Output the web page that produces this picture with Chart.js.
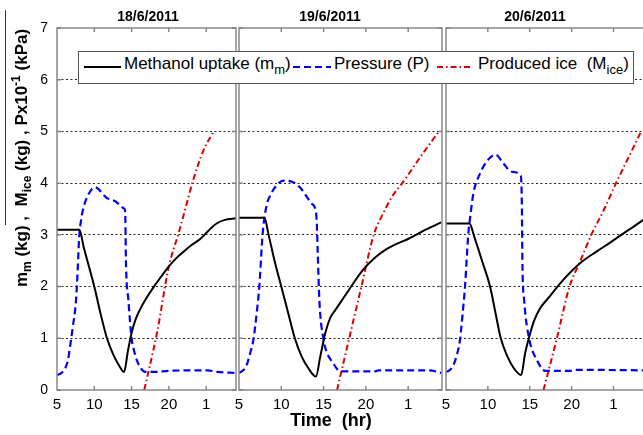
<!DOCTYPE html>
<html>
<head>
<meta charset="utf-8">
<script src="https://cdn.jsdelivr.net/npm/chart.js@4.4.0/dist/chart.umd.min.js"></script>
<style>
  html, body { margin: 0; padding: 0; background: #fff; }
  #wrap { position: relative; width: 643px; height: 435px; overflow: hidden; background: #fff;
          font-family: "Liberation Sans", Arial, sans-serif; color: #000; }
  canvas.panel { position: absolute; left: 0; top: 0; }
  .title { position: absolute; top: 7px; font-size: 14px; font-weight: bold; line-height: 18px;
           transform: translateX(-50%); white-space: nowrap; }
  #ylab { position: absolute; left: 22px; top: 158px; font-size: 17px; font-weight: bold; white-space: pre;
          transform: translate(-50%, -50%) rotate(-90deg); }
  #ylab sub, #ylab sup { font-size: 12px; line-height: 0; }
  #ybar { position: absolute; left: 5px; top: 10px; width: 1px; height: 215px; background: #333; }
  #xlab { position: absolute; left: 331px; top: 410px; font-size: 18px; font-weight: bold; white-space: pre;
          transform: translateX(-50%); }
  #legend { position: absolute; left: 78px; top: 51px; width: 554px; height: 31px; border: 1px solid #555;
            background: #fff; z-index: 5; }
  .lg { position: absolute; z-index: 6; font-size: 17px; line-height: 16px; top: 56px; white-space: pre; }
  .lg sub { font-size: 13px; line-height: 0; vertical-align: -5px; }
  svg.smp { position: absolute; z-index: 6; top: 62px; }
</style>
</head>
<body>
<div id="wrap">
  <canvas class="panel" id="p1" width="660" height="435"></canvas>
  <canvas class="panel" id="p2" width="660" height="435"></canvas>
  <canvas class="panel" id="p3" width="660" height="435"></canvas>

  <div class="title" style="left:148px">18/6/2011</div>
  <div class="title" style="left:330px">19/6/2011</div>
  <div class="title" style="left:535px">20/6/2011</div>

  <div id="ybar"></div>
  <div id="ylab">m<sub>m</sub> (kg) ,  M<sub>ice</sub> (kg) , Px10<sup>-1</sup> (kPa)</div>
  <div id="xlab">Time  (hr)</div>

  <div id="legend"></div>
  <svg class="smp" style="left:84px" width="37" height="10"><line x1="0" y1="5" x2="37" y2="5" stroke="#000" stroke-width="2"/></svg>
  <div class="lg" style="left:124px">Methanol uptake (m<sub>m</sub>)</div>
  <svg class="smp" style="left:293px" width="38" height="10"><line x1="0" y1="5" x2="38" y2="5" stroke="#0000ff" stroke-width="2" stroke-dasharray="7 4"/></svg>
  <div class="lg" style="left:334px">Pressure (P)</div>
  <svg class="smp" style="left:437px" width="36" height="10"><line x1="0" y1="5" x2="36" y2="5" stroke="#dd0000" stroke-width="2" stroke-dasharray="6 3 1.5 3"/></svg>
  <div class="lg" style="left:478px">Produced ice  (M<sub>ice</sub>)</div>
</div>

<script>
// hours of the day (5 -> 29 means 5 am to 5 am next day)
const xTicks = [5, 10, 15, 20, 25];
const xTickLabels = ['5', '10', '15', '20', '1'];
const yTicks = [0, 1, 2, 3, 4, 5, 6, 7];
const dayTitles = ['18/6/2011', '19/6/2011', '20/6/2011'];

// --- 18/6/2011 ---
const methanol18 = [[5,3.1],[8.0,3.1],[8.6,2.75],[9.3,2.38],[10,2.0],[10.8,1.5],[11.7,1.0],[12.5,0.7],[13.3,0.48],[14.0,0.35],
  [14.5,0.75],[15.0,1.1],[15.5,1.35],[16.1,1.55],[17,1.78],[18,2.0],[19,2.2],[20,2.39],[21,2.55],[22,2.68],[23,2.8],
  [24.2,2.92],[25.3,3.08],[26.4,3.22],[27.5,3.29],[29,3.32]];
const pressure18 = [[5,0.29],[5.6,0.33],[6.1,0.42],[6.5,0.6],[6.75,0.84],[7.1,1.2],[7.55,1.74],[7.8,2.4],[7.95,2.9],[8.3,3.35],
  [8.7,3.6],[9.1,3.75],[9.6,3.87],[10.1,3.92],[10.6,3.88],[11.2,3.78],[11.7,3.71],[12.3,3.68],[12.8,3.65],[13.4,3.58],[14.0,3.51],
  [14.13,3.47],[14.26,2.38],[14.57,1.74],[15.0,1.0],[15.35,0.75],[15.7,0.58],[16.2,0.43],[16.8,0.35],[18,0.35],[20,0.37],
  [23,0.38],[25.2,0.38],[26.5,0.35],[29,0.33]];
const ice18 = [[16.7,0],[18.4,1.1],[20,2.39],[21.3,3.03],[22.2,3.5],[23.2,4.03],[24.6,4.62],[26,5.0]];

// --- 19/6/2011 ---
const methanol19 = [[5,3.33],[8.0,3.33],[8.5,3.0],[9.2,2.5],[10,2.0],[10.8,1.5],[11.6,1.0],[12.4,0.65],[13.2,0.42],[14.1,0.26],
  [14.6,0.64],[15.2,1.1],[15.8,1.4],[16.4,1.55],[17.97,1.93],[19.63,2.32],[21,2.55],[22.3,2.71],[23.7,2.83],[25.1,2.93],
  [27.06,3.1],[28.9,3.24]];
const pressure19 = [[5,0.33],[5.5,0.38],[5.9,0.48],[6.3,0.7],[6.7,0.97],[7.1,1.5],[7.4,2.0],[7.8,3.03],[8.3,3.6],[8.7,3.76],
  [9.3,3.93],[10.25,4.05],[11.0,4.04],[11.6,4.0],[12.3,3.9],[13.0,3.74],[13.6,3.6],[14.1,3.45],[14.2,3.2],[14.3,2.7],[14.5,1.74],
  [15.0,0.97],[15.4,0.72],[16.0,0.55],[17.0,0.36],[21.1,0.36],[21.5,0.38],[27.5,0.38],[28.9,0.33]];
const ice19 = [[16.59,0],[18.03,1],[19.47,2],[20.93,3],[22,3.4],[23.1,3.74],[24.3,4.0],[26.5,4.52],[28.64,5.0]];

// --- 20/6/2011 ---
const methanol20 = [[5,3.22],[7.8,3.22],[8.4,2.95],[9.3,2.5],[10.26,2.0],[10.9,1.5],[11.54,1.0],[12.3,0.66],[13.1,0.42],[13.97,0.29],
  [14.45,0.71],[14.96,1.04],[15.5,1.33],[16.24,1.58],[17.44,1.82],[18.84,2.1],[21.0,2.45],[23.0,2.68],[24.6,2.85],[26.2,3.03],
  [27.4,3.16],[28.56,3.29],[28.9,3.33]];
const pressure20 = [[5,0.35],[5.4,0.38],[5.88,0.48],[6.3,0.68],[6.67,0.97],[7.0,1.5],[7.27,2.0],[7.67,3.03],[7.87,3.32],[8.27,3.8],
  [9.07,4.19],[10.06,4.46],[10.94,4.55],[11.86,4.38],[12.86,4.22],[13.93,4.14],[14.05,3.67],[14.13,2.39],[14.33,1.74],[14.96,0.97],
  [15.85,0.58],[16.84,0.37],[19.8,0.37],[20.5,0.39],[28.9,0.38]];
const ice20 = [[16.64,0],[18.24,1],[19.75,2],[21.0,2.48],[22.35,3],[23.9,3.5],[25.3,4],[26.8,4.5],[28.3,5.0]];

const toXY = arr => arr.map(p => ({ x: p[0], y: p[1] }));

// draws the grey box round each panel + inward tick marks (matlab style)
const framePlugin = {
  id: 'frame',
  afterDatasetsDraw(chart) {
    const { ctx, chartArea: a } = chart;
    const xs = chart.scales.x, ys = chart.scales.y;
    ctx.save();
    ctx.strokeStyle = '#808080';
    ctx.lineWidth = 1.4;
    ctx.strokeRect(a.left, a.top, a.right - a.left, a.bottom - a.top);
    ctx.beginPath();
    xTicks.forEach(v => {
      const px = xs.getPixelForValue(v);
      if (px <= a.left + 1) return;
      ctx.moveTo(px, a.bottom); ctx.lineTo(px, a.bottom - 4);
      ctx.moveTo(px, a.top); ctx.lineTo(px, a.top + 4);
    });
    yTicks.forEach(v => {
      const py = ys.getPixelForValue(v);
      ctx.moveTo(a.left, py); ctx.lineTo(a.left + 4, py);
      ctx.moveTo(a.right, py); ctx.lineTo(a.right - 4, py);
    });
    ctx.stroke();
    ctx.restore();
  }
};

function makePanel(id, left, right, methanol, pressure, ice, showY) {
  return new Chart(document.getElementById(id), {
    type: 'line',
    data: {
      datasets: [
        { label: 'Methanol uptake', data: toXY(methanol), borderColor: '#000', borderWidth: 2,
          cubicInterpolationMode: 'monotone' },
        { label: 'Pressure', data: toXY(pressure), borderColor: '#0000ff', borderWidth: 2.2,
          borderDash: [7, 4], cubicInterpolationMode: 'monotone' },
        { label: 'Produced ice', data: toXY(ice), borderColor: '#dd0000', borderWidth: 2,
          borderDash: [6, 3, 1.5, 3], cubicInterpolationMode: 'monotone' }
      ]
    },
    options: {
      responsive: false,
      animation: false,
      events: [],
      layout: { padding: { top: 28, right: 660 - right, left: 0, bottom: 0 } },
      elements: { point: { radius: 0 } },
      plugins: { legend: { display: false }, tooltip: { enabled: false } },
      scales: {
        x: {
          type: 'linear', min: 5, max: 29,
          afterFit: s => { s.height = 45; },
          afterBuildTicks: s => { s.ticks = xTicks.map(v => ({ value: v })); },
          grid: { display: false, drawTicks: false },
          border: { display: false },
          ticks: {
            padding: 6, color: '#000', maxRotation: 0, autoSkip: false,
            font: { family: '"Liberation Sans", Arial, sans-serif', size: 15 },
            callback: v => xTickLabels[xTicks.indexOf(v)]
          }
        },
        y: {
          min: 0, max: 7,
          afterFit: s => { s.width = left; },
          afterBuildTicks: s => { s.ticks = yTicks.map(v => ({ value: v })); },
          grid: {
            drawTicks: false, lineWidth: 1,
            color: c => (c.tick && c.tick.value > 0 && c.tick.value < 7) ? '#222' : 'rgba(0,0,0,0)'
          },
          border: { display: false, dash: [2, 2.5] },
          ticks: {
            display: showY, padding: 9, color: '#000',
            font: { family: '"Liberation Sans", Arial, sans-serif', size: 14 }
          }
        }
      }
    },
    plugins: [framePlugin]
  });
}

makePanel('p1', 57, 236, methanol18, pressure18, ice18, true);
makePanel('p2', 239, 442, methanol19, pressure19, ice19, false);
makePanel('p3', 446, 647, methanol20, pressure20, ice20, false);
</script>
</body>
</html>
